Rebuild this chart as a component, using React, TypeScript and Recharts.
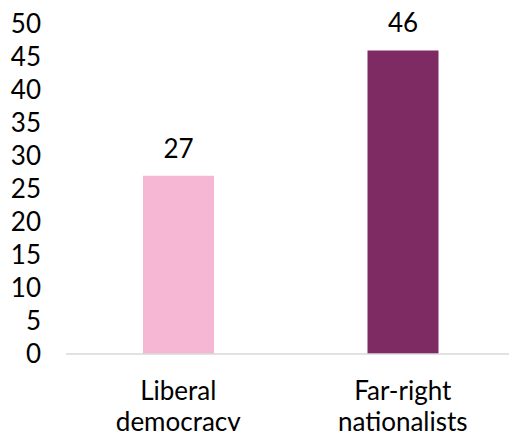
import React from 'react';
import { BarChart, Bar, XAxis, YAxis, Cell, LabelList } from 'recharts';

const CATEGORIES = ['Liberal democracy', 'Far-right nationalists'];
const CATEGORY_LINES = [['Liberal', 'democracy'], ['Far-right', 'nationalists']];
const VALUES = [27, 46];
const BAR_COLORS = ['#F5B7D3', '#7F2B63'];
const Y_TICKS = [0, 5, 10, 15, 20, 25, 30, 35, 40, 45, 50];

const FONT = 'Lato, "Open Sans", sans-serif';

const data = CATEGORIES.map((name, i) => ({ name, value: VALUES[i], idx: i }));

// two-line category label under each bar
function CategoryTick({ x, y, payload }: { x?: number; y?: number; payload?: { value: string; index: number } }) {
    const lines = CATEGORY_LINES[CATEGORIES.indexOf(payload?.value ?? '')] ?? [payload?.value];
    return (
        <text x={x} y={y} textAnchor="middle" fill="#000" fontSize={26} fontFamily={FONT}>
            {lines.map((line, i) => (
                <tspan key={i} x={x} dy={i === 0 ? 38 : 31}>{line}</tspan>
            ))}
        </text>
    );
}

export default function App() {
    return (
        <div style={{ width: 509, height: 431, background: '#fff', overflow: 'hidden' }}>
            <style>{'html, body { margin: 0; padding: 0; overflow: hidden; background: #fff; }'}</style>
            <BarChart
                width={509}
                height={431}
                data={data}
                margin={{ top: 24, right: -6, bottom: 0, left: 0 }}
            >
                <XAxis
                    dataKey="name"
                    height={77}
                    tickLine={false}
                    axisLine={{ stroke: '#d9d9d9', strokeWidth: 1.5 }}
                    tick={<CategoryTick />}
                    interval={0}
                />
                <YAxis
                    width={66}
                    domain={[0, 50]}
                    ticks={Y_TICKS}
                    interval={0}
                    axisLine={false}
                    tickLine={false}
                    tickSize={0}
                    tickMargin={25}
                    tick={{ fill: '#000', fontSize: 26, fontFamily: FONT }}
                />
                <Bar dataKey="value" barSize={71} isAnimationActive={false}>
                    {data.map((d) => (
                        <Cell key={d.name} fill={BAR_COLORS[d.idx]} />
                    ))}
                    <LabelList
                        dataKey="value"
                        position="top"
                        offset={18}
                        fill="#000"
                        fontSize={26}
                        fontFamily={FONT}
                    />
                </Bar>
            </BarChart>
        </div>
    );
}
